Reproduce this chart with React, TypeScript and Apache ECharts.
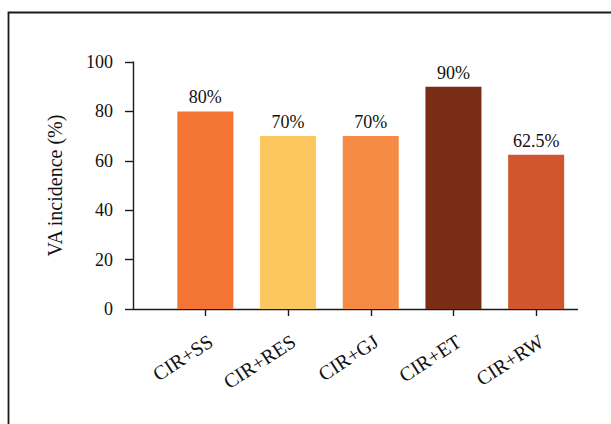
import React, { useEffect, useRef } from "react";
import * as echarts from "echarts";

const categories = ["CIR+SS", "CIR+RES", "CIR+GJ", "CIR+ET", "CIR+RW"];
const values = [80, 70, 70, 90, 62.5];
const valueLabels = ["80%", "70%", "70%", "90%", "62.5%"];
const barColors = ["#F37433", "#FDC75F", "#F68B45", "#7A2D15", "#D1552F"];
const yTicks = [0, 20, 40, 60, 80, 100];

const FONT = "'Liberation Serif', 'DejaVu Serif', serif";
const AXIS_COLOR = "#1a1a1a";

export default function App() {
  const ref = useRef<HTMLDivElement>(null);
  useEffect(() => {
    if (!ref.current) return;
    const chart = echarts.init(ref.current, undefined, { renderer: "svg" });
    chart.setOption({
      animation: false,
      backgroundColor: "#ffffff",
      textStyle: { fontFamily: FONT },
      graphic: [
        {
          type: "rect",
          shape: { x: 8.5, y: 12.5, width: 700, height: 500 },
          style: { fill: "none", stroke: "#1a1a1a", lineWidth: 1.8 },
          silent: true,
        },
      ],
      grid: [
        { left: 133, right: 33.5, top: 62, bottom: 115 },
        { left: 164, right: 33.5, top: 62, bottom: 115 },
      ],
      xAxis: [
        {
          gridIndex: 0,
          type: "value",
          min: 0,
          max: 1,
          axisLine: { show: true, lineStyle: { color: AXIS_COLOR, width: 1.4 } },
          axisTick: { show: false },
          axisLabel: { show: false },
          splitLine: { show: false },
        },
        {
          gridIndex: 1,
          type: "category",
          data: categories,
          axisLine: { show: false },
          axisTick: {
            show: true,
            alignWithLabel: true,
            length: 7,
            lineStyle: { color: AXIS_COLOR, width: 1.4 },
          },
          axisLabel: {
            rotate: 33,
            margin: 22,
            fontSize: 20,
            color: "#111",
            fontFamily: FONT,
            verticalAlign: "top",
          },
        },
      ],
      yAxis: [
        {
          gridIndex: 0,
          type: "value",
          min: yTicks[0],
          max: yTicks[yTicks.length - 1],
          interval: 20,
          name: "VA incidence (%)",
          nameLocation: "middle",
          nameRotate: 90,
          nameGap: 68,
          nameTextStyle: { fontSize: 20, color: "#111", fontFamily: FONT },
          axisLine: { show: true, lineStyle: { color: AXIS_COLOR, width: 1.4 } },
          axisTick: { show: true, length: 8, lineStyle: { color: AXIS_COLOR, width: 1.4 } },
          axisLabel: { fontSize: 18, color: "#111", margin: 20, fontFamily: FONT },
          splitLine: { show: false },
        },
        {
          gridIndex: 1,
          type: "value",
          min: yTicks[0],
          max: yTicks[yTicks.length - 1],
          show: false,
          splitLine: { show: false },
        },
      ],
      series: [
        {
          type: "bar",
          xAxisIndex: 1,
          yAxisIndex: 1,
          barWidth: 56,
          data: values.map((v, i) => ({
            value: v,
            itemStyle: { color: barColors[i] },
          })),
          label: {
            show: true,
            position: "top",
            distance: 5,
            fontSize: 18,
            color: "#111",
            fontFamily: FONT,
            formatter: (p: any) => valueLabels[p.dataIndex],
          },
        },
      ],
    });
    return () => chart.dispose();
  }, []);
  return (
    <div
      ref={ref}
      style={{ position: "absolute", left: 0, top: 0, width: 611, height: 424 }}
    />
  );
}
